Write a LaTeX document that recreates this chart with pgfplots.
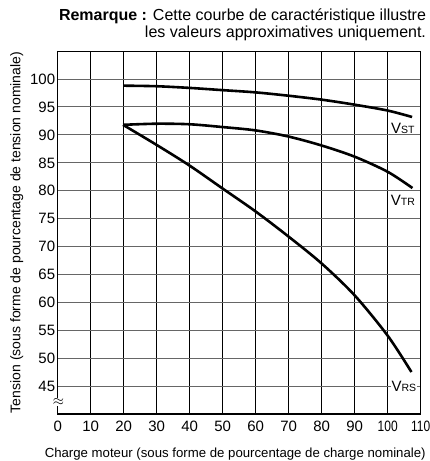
\documentclass[border=0pt]{standalone}
\usepackage{pgfplots}
\pgfplotsset{compat=1.18}
\usepackage{fontspec}
\setmainfont{Liberation Sans}
\usepackage{graphicx}
\newcommand\tf{\fontsize{15}{15}\selectfont}
\begin{document}
\begin{tikzpicture}
\useasboundingbox (-57.7pt,-47pt) rectangle (372.3pt,414pt);
\begin{axis}[
  anchor=south west, at={(0,0)},
  scale only axis, width=363pt, height=363pt,
  xmin=0, xmax=110, ymin=40.1, ymax=105,
  xtick={0,10,...,110},
  xticklabels={\tf 0,\tf 10,\tf 20,\tf 30,\tf 40,\tf 50,\tf 60,\tf 70,\tf 80,\tf 90,\tf\scalebox{0.8}[1]{100},\tf\scalebox{0.8}[1]{110}},
  ytick={45,50,...,100},
  yticklabel={\tf\pgfmathprintnumber{\tick}},
  /pgf/number format/assume math mode=true,
  major tick length=0pt,
  xticklabel style={yshift=-3pt},
  yticklabel style={xshift=1pt},
  xmajorgrids, ymajorgrids,
  x grid style={black, line width=0.7pt},
  y grid style={black!60, line width=0.9pt},
  axis line style={black, line width=0.7pt},
  xlabel={Charge moteur (sous forme de pourcentage de charge nominale)},
  ylabel={Tension (sous forme de pourcentage de tension nominale)},
  xlabel style={font=\fontsize{13.2}{14}\selectfont, at={(rel axis cs:0.5,0)}, anchor=base, yshift=-43pt, xshift=-4pt},
  ylabel style={font=\fontsize{14}{15}\selectfont},
  clip=false,
]
\addplot[black, line width=2.6pt, smooth] coordinates {
(20,98.8)(30,98.7)(40,98.4)(50,98.0)(60,97.6)(70,97.0)(80,96.3)(90,95.4)(100,94.35)(107.4,93.2)};
\addplot[black, line width=2.6pt, smooth] coordinates {
(19.8,91.8)(30,92.0)(40,91.9)(50,91.4)(60,90.8)(70,89.7)(80,88.1)(90,86.1)(100,83.4)(107.5,80.5)};
\addplot[black, line width=2.6pt, smooth] coordinates {
(19.8,91.8)(30,88.2)(40,84.5)(50,80.4)(60,76.3)(70,71.8)(80,67.0)(90,61.3)(100,54.1)(107.2,47.6)};
\draw[black, line width=1.4pt] (rel axis cs:0,1) -- (rel axis cs:0,0) -- (rel axis cs:1,0) -- (rel axis cs:1,1);
\node[fill=white, inner sep=0.5pt, font=\fontsize{14}{14}\selectfont] at (axis cs:0.2,42.2) {$\approx$};
\node[font=\fontsize{15}{15}\selectfont, inner sep=0.5pt] at (axis cs:104.6,91.25) {V{\fontsize{10.5}{10.5}\selectfont ST}};
\node[font=\fontsize{15}{15}\selectfont, inner sep=0.5pt] at (axis cs:104.6,78.3) {V{\fontsize{10.5}{10.5}\selectfont TR}};
\node[fill=white, font=\fontsize{15}{15}\selectfont, inner sep=1pt] at (axis cs:104.9,45) {V{\fontsize{10.5}{10.5}\selectfont RS}};
\node[anchor=south east, align=right, font=\fontsize{16}{16.5}\selectfont, inner sep=0pt] at ([xshift=5.5pt,yshift=10pt]rel axis cs:1,1) {\textbf{Remarque :} Cette courbe de caractéristique illustre\\ les valeurs approximatives uniquement.};
\end{axis}
\end{tikzpicture}
\end{document}
